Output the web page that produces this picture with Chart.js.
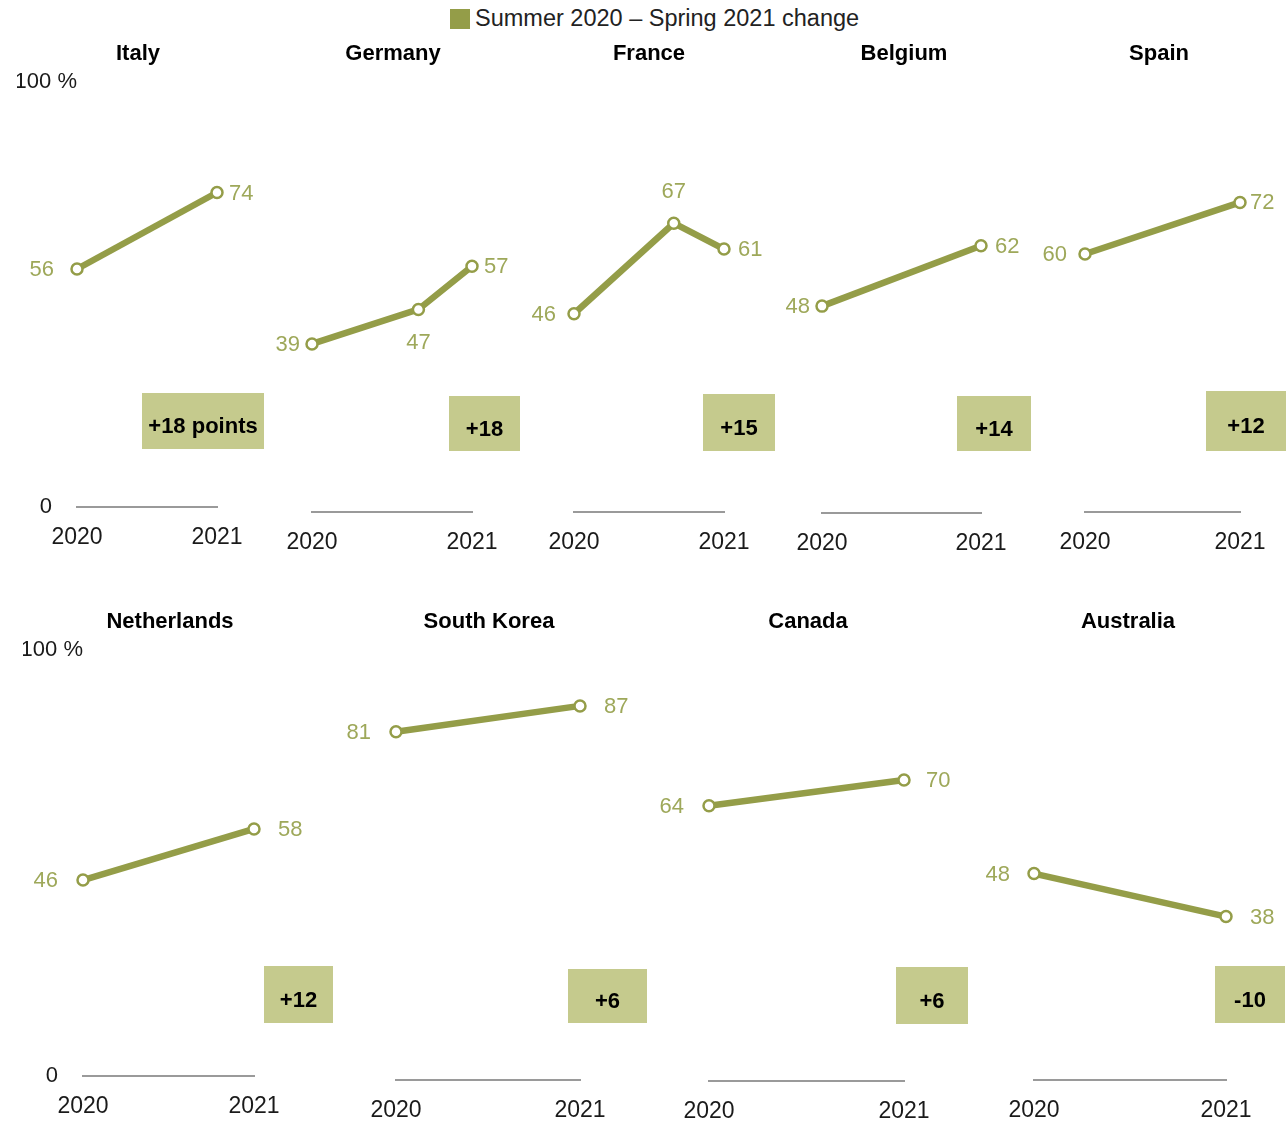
<!DOCTYPE html>
<html>
<head>
<meta charset="utf-8">
<script src="https://cdn.jsdelivr.net/npm/chart.js@4.4.1/dist/chart.umd.min.js"></script>
<style>
  body { margin: 0; background: #fff; }
  #wrap { position: relative; width: 1286px; height: 1124px; overflow: hidden; }
  #wrap canvas { position: absolute; left: 0; top: 0; }
  #legend { position: absolute; left: 450px; top: 5px; height: 26px; line-height: 26px;
            font: 23.5px 'Liberation Sans', Arial, sans-serif; color: #222; white-space: nowrap; }
  #legend span { display: inline-block; width: 20px; height: 20px; background: #949d48;
                 vertical-align: -3px; margin-right: 5px; }
</style>
</head>
<body>
<div id="wrap">
  <div id="legend"><span></span>Summer 2020 – Spring 2021 change</div>
</div>
<script>
const countries = ['Italy', 'Germany', 'France', 'Belgium', 'Spain', 'Netherlands', 'South Korea', 'Canada', 'Australia'];
// survey waves placed on the 2020 -> 2021 axis
const waves = [0, 0.665, 1];
const summer2020 = [56, 39, 46, 48, 60, 46, 81, 64, 48];
const midWave = [null, 47, 67, null, null, null, null, null, null];
const spring2021 = [74, 57, 61, 62, 72, 58, 87, 70, 38];
const changes = [18, 18, 15, 14, 12, 12, 6, 6, -10];
const xTickLabels = ['2020', '2021'];
const yTickLabels = ['0', '100 %'];

// panel placement on the page
const panels = [
  { x0: 77, x1: 217, y0: 507, y100: 82, tx: 138, ty: 54, gap: [23, 12], badge: [203, 421, 122, 56], yAxis: true },
  { x0: 312, x1: 472, y0: 512, y100: 81, tx: 393, ty: 54, gap: [12, 12], mid: 'below', badge: [484.5, 423.5, 71, 55] },
  { x0: 574, x1: 724, y0: 512, y100: 81, tx: 649, ty: 54, gap: [18, 14], mid: 'above', badge: [739, 422.5, 72, 57] },
  { x0: 822, x1: 981, y0: 513, y100: 82, tx: 904, ty: 54, gap: [12, 14], badge: [994, 423.5, 74, 55] },
  { x0: 1085, x1: 1240, y0: 512, y100: 82, tx: 1159, ty: 54, gap: [18, 10], badge: [1246, 421, 80, 60] },
  { x0: 83, x1: 254, y0: 1076, y100: 650, tx: 170, ty: 622, gap: [25, 24], badge: [298.5, 994.5, 69, 57], yAxis: true },
  { x0: 396, x1: 580, y0: 1080, y100: 650, tx: 489, ty: 622, gap: [25, 24], badge: [607.5, 996, 79, 54] },
  { x0: 709, x1: 904, y0: 1081, y100: 651, tx: 808, ty: 622, gap: [25, 22], badge: [932, 995.5, 72, 57] },
  { x0: 1034, x1: 1226, y0: 1080, y100: 650, tx: 1128, ty: 622, gap: [24, 24], badge: [1250, 994.5, 70, 57] }
];

const W = 1286, H = 1124, AXIS_H = 60, YAXIS_W = 60;
const FONT = "'Liberation Sans', Arial, sans-serif";
const olive = '#949d48';
const labelColor = '#9ea85a';
const badgeColor = '#c5ca8d';

const panelDecor = {
  id: 'panelDecor',
  afterDatasetsDraw(chart, args, opts) {
    const ctx = chart.ctx;
    const p = opts.panel;
    ctx.save();
    // title
    ctx.fillStyle = '#000';
    ctx.font = 'bold 22px ' + FONT;
    ctx.textAlign = 'center';
    ctx.textBaseline = 'middle';
    ctx.fillText(opts.title, p.tx, p.ty);
    // change badge
    const [bx, by, bw, bh] = p.badge;
    ctx.fillStyle = badgeColor;
    ctx.fillRect(bx - bw / 2, by - bh / 2, bw, bh);
    ctx.fillStyle = '#000';
    ctx.fillText(opts.badgeText, bx, by + 6);
    // point labels
    ctx.font = '22px ' + FONT;
    ctx.fillStyle = labelColor;
    const meta = chart.getDatasetMeta(0);
    const pts = chart.data.datasets[0].data;
    meta.data.forEach((el, i) => {
      const v = pts[i].y;
      if (i === 0) {
        ctx.textAlign = 'right';
        ctx.fillText(v, el.x - p.gap[0], el.y + 1);
      } else if (i === pts.length - 1) {
        ctx.textAlign = 'left';
        ctx.fillText(v, el.x + p.gap[1], el.y + 1);
      } else {
        ctx.textAlign = 'center';
        ctx.fillText(v, el.x, p.mid === 'below' ? el.y + 34 : el.y - 31);
      }
    });
    ctx.restore();
  }
};

const wrap = document.getElementById('wrap');

countries.forEach((name, i) => {
  const p = panels[i];
  const values = [summer2020[i], midWave[i], spring2021[i]];
  const points = waves.map((x, j) => ({ x: x, y: values[j] })).filter(d => d.y !== null);
  const ch = changes[i];
  const badgeText = (ch > 0 ? '+' : '') + ch + (i === 0 ? ' points' : '');

  const canvas = document.createElement('canvas');
  canvas.width = W;
  canvas.height = H;
  wrap.appendChild(canvas);

  new Chart(canvas.getContext('2d'), {
    type: 'line',
    data: {
      datasets: [{
        data: points,
        borderColor: olive,
        borderWidth: 6.5,
        pointRadius: 5.5,
        pointBorderWidth: 2.5,
        pointBackgroundColor: '#fff',
        pointBorderColor: olive,
        clip: false,
        tension: 0
      }]
    },
    options: {
      responsive: false,
      animation: false,
      layout: {
        padding: {
          left: p.yAxis ? p.x0 - YAXIS_W : p.x0,
          right: W - p.x1,
          top: p.y100,
          bottom: H - p.y0 - AXIS_H
        }
      },
      plugins: {
        legend: { display: false },
        tooltip: { enabled: false },
        panelDecor: { panel: p, title: name, badgeText: badgeText }
      },
      scales: {
        x: {
          type: 'linear',
          min: 0,
          max: 1,
          afterFit: (s) => { s.height = AXIS_H; },
          grid: { display: false, drawTicks: false },
          border: { display: true, color: '#9a9a9a', width: 2 },
          ticks: {
            stepSize: 1,
            padding: 17,
            maxRotation: 0,
            color: '#1a1a1a',
            font: { family: FONT, size: 23 },
            callback: (v) => xTickLabels[v]
          }
        },
        y: {
          min: 0,
          max: 100,
          display: !!p.yAxis,
          afterFit: (s) => { s.width = p.yAxis ? YAXIS_W : 0; },
          grid: { display: false, drawTicks: false },
          border: { display: false },
          ticks: {
            stepSize: 100,
            padding: 0,
            crossAlign: 'center',
            color: '#1a1a1a',
            font: { family: FONT, size: 22 },
            callback: (v) => yTickLabels[v / 100]
          }
        }
      }
    },
    plugins: [panelDecor]
  });
});
</script>
</body>
</html>
